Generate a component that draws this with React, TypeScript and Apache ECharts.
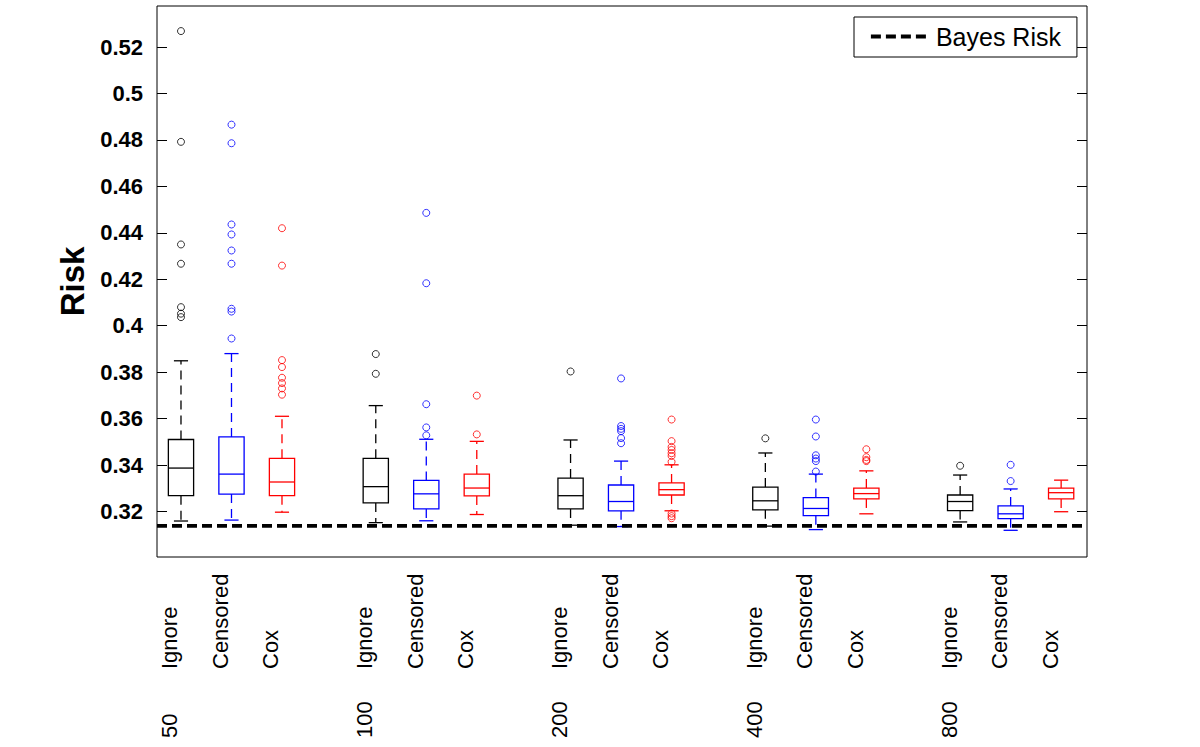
import React, { useEffect, useRef } from 'react';
import * as echarts from 'echarts';

// ---------- data ----------
const groupLabels = ['50', '100', '200', '400', '800'];
const methodLabels = ['Ignore', 'Censored', 'Cox'];
const methodColors = ['#000000', '#0000ff', '#ff0000'];

const yTickLabels = ['0.32', '0.34', '0.36', '0.38', '0.4', '0.42', '0.44', '0.46', '0.48', '0.5', '0.52'];

const bayesRisk = 0.3138;

// five-number summaries per sample size (50, 100, 200, 400, 800)
const ignoreLow = [0.3159, 0.3152, 0.3141, 0.3137, 0.3155];
const ignoreQ1 = [0.3268, 0.3237, 0.3211, 0.3207, 0.3204];
const ignoreMed = [0.3387, 0.3307, 0.3268, 0.3246, 0.3243];
const ignoreQ3 = [0.351, 0.3429, 0.3344, 0.3305, 0.3271];
const ignoreHigh = [0.3849, 0.3656, 0.3508, 0.3452, 0.3357];

const censoredLow = [0.3163, 0.316, 0.3135, 0.3122, 0.3119];
const censoredQ1 = [0.3275, 0.3211, 0.3203, 0.3182, 0.3169];
const censoredMed = [0.3361, 0.3276, 0.3243, 0.3213, 0.319];
const censoredQ3 = [0.3521, 0.3334, 0.3314, 0.326, 0.3224];
const censoredHigh = [0.388, 0.3511, 0.3417, 0.3361, 0.3297];

const coxLow = [0.3197, 0.3187, 0.3203, 0.319, 0.3199];
const coxQ1 = [0.3268, 0.3267, 0.3271, 0.3254, 0.3254];
const coxMed = [0.3327, 0.3301, 0.3294, 0.3277, 0.3281];
const coxQ3 = [0.3429, 0.3361, 0.3323, 0.3301, 0.3301];
const coxHigh = [0.361, 0.3502, 0.3401, 0.3375, 0.3335];

const ignoreOutliers = [
  [0.5269, 0.4792, 0.435, 0.4267, 0.408, 0.4052, 0.4037],
  [0.3878, 0.3793],
  [0.3803],
  [0.3515],
  [0.3397],
];
const censoredOutliers = [
  [0.4866, 0.4786, 0.4436, 0.4393, 0.4324, 0.4267, 0.4073, 0.4061, 0.3945],
  [0.4486, 0.4183, 0.3662, 0.3562, 0.3528],
  [0.3773, 0.3568, 0.3556, 0.3546, 0.3516, 0.3494],
  [0.3596, 0.3523, 0.3442, 0.3428, 0.3417, 0.3372],
  [0.3401, 0.3331],
];
const coxOutliers = [
  [0.442, 0.4259, 0.3852, 0.3822, 0.3776, 0.3753, 0.373, 0.3703],
  [0.3699, 0.3532],
  [0.3596, 0.3503, 0.3478, 0.3465, 0.3451, 0.3439, 0.3414, 0.3191, 0.318, 0.3171],
  [0.3468, 0.3434, 0.3422, 0.3417],
  [],
];

// ---------- layout ----------
const FONT = '"Liberation Sans", Arial, Helvetica, sans-serif';
const GROUP_STEP = 3.857;
const X_MIN = -0.475;
const X_MAX = 17.94;
const Y_MIN = 0.3004;
const Y_MAX = 0.5377;
const BOX_W = 0.5;
const CAP_W = 0.28;

const pos = (g: number, k: number) => g * GROUP_STEP + k;

const summaries = [
  [ignoreLow, ignoreQ1, ignoreMed, ignoreQ3, ignoreHigh],
  [censoredLow, censoredQ1, censoredMed, censoredQ3, censoredHigh],
  [coxLow, coxQ1, coxMed, coxQ3, coxHigh],
];
const outliers = [ignoreOutliers, censoredOutliers, coxOutliers];

export default function App() {
  const ref = useRef<HTMLDivElement>(null);

  useEffect(() => {
    const chart = echarts.init(ref.current!, null, { renderer: 'svg' });
    const yTicks = yTickLabels.map(Number);

    const series: any[] = [];
    methodLabels.forEach((m, k) => {
      const color = methodColors[k];
      const [lo, q1, med, q3, hi] = summaries[k];
      const data = groupLabels.map((_, g) => [pos(g, k), lo[g], q1[g], med[g], q3[g], hi[g]]);
      series.push({
        type: 'custom',
        name: m + ' box',
        data,
        encode: { x: 0, y: [1, 2, 3, 4, 5] },
        z: 2,
        renderItem: (_params: any, api: any) => {
          const x = api.value(0);
          const c = (v: number) => api.coord([x, v]);
          const pLow = c(api.value(1));
          const pQ1 = c(api.value(2));
          const pMed = c(api.value(3));
          const pQ3 = c(api.value(4));
          const pHigh = c(api.value(5));
          const bw = api.size([BOX_W, 0])[0];
          const cw = api.size([CAP_W, 0])[0];
          const cx = pLow[0];
          const solid = { stroke: color, lineWidth: 1.3, fill: 'none' };
          const dashed = { stroke: color, lineWidth: 1.3, lineDash: [9, 6] };
          return {
            type: 'group',
            children: [
              { type: 'line', shape: { x1: cx, y1: pQ3[1], x2: cx, y2: pHigh[1] }, style: dashed },
              { type: 'line', shape: { x1: cx, y1: pQ1[1], x2: cx, y2: pLow[1] }, style: dashed },
              { type: 'line', shape: { x1: cx - cw / 2, y1: pHigh[1], x2: cx + cw / 2, y2: pHigh[1] }, style: solid },
              { type: 'line', shape: { x1: cx - cw / 2, y1: pLow[1], x2: cx + cw / 2, y2: pLow[1] }, style: solid },
              {
                type: 'rect',
                shape: { x: cx - bw / 2, y: pQ3[1], width: bw, height: pQ1[1] - pQ3[1] },
                style: { stroke: color, lineWidth: 1.3, fill: '#fff' },
              },
              { type: 'line', shape: { x1: cx - bw / 2, y1: pMed[1], x2: cx + bw / 2, y2: pMed[1] }, style: solid },
            ],
          };
        },
      });
      const outData: number[][] = [];
      outliers[k].forEach((vals, g) => vals.forEach((v) => outData.push([pos(g, k), v])));
      series.push({
        type: 'scatter',
        name: m + ' outliers',
        data: outData,
        symbol: 'circle',
        symbolSize: 7,
        z: 3,
        itemStyle: { color: 'rgba(0,0,0,0)', borderColor: color, borderWidth: 1 },
      });
    });

    series.push({
      type: 'line',
      name: 'Bayes Risk',
      data: [
        [X_MIN, bayesRisk],
        [X_MAX, bayesRisk],
      ],
      symbol: 'none',
      z: 4,
      lineStyle: { color: '#000', width: 3.8, type: [10, 5] },
      itemStyle: { color: '#000' },
    });

    chart.setOption({
      animation: false,
      backgroundColor: '#fff',
      grid: {
        left: 157,
        top: 6,
        right: 113,
        bottom: 190,
        show: true,
        borderColor: '#000',
        borderWidth: 1,
        backgroundColor: '#fff',
      },
      legend: {
        data: ['Bayes Risk'],
        left: 854,
        top: 17,
        padding: [7, 16, 8, 15],
        itemWidth: 60,
        itemHeight: 14,
        backgroundColor: '#fff',
        borderColor: '#000',
        borderWidth: 1,
        itemStyle: { opacity: 0 },
        lineStyle: { color: '#000', width: 3.8, type: [10, 5] },
        textStyle: { fontSize: 25, color: '#000', fontFamily: FONT },
      },
      xAxis: { type: 'value', min: X_MIN, max: X_MAX, show: false },
      yAxis: [
        {
          type: 'value',
          min: Y_MIN,
          max: Y_MAX,
          position: 'left',
          axisLine: { show: false, onZero: false },
          splitLine: { show: false },
          axisTick: { show: true, inside: true, length: 10, customValues: yTicks, lineStyle: { color: '#000' } },
          axisLabel: {
            customValues: yTicks,
            formatter: (v: number) => {
              const i = yTicks.findIndex((t) => Math.abs(t - v) < 1e-9);
              return i >= 0 ? yTickLabels[i] : String(v);
            },
            fontSize: 22,
            fontWeight: 'bold',
            color: '#000',
            margin: 14,
            fontFamily: FONT,
          },
          name: 'Risk',
          nameLocation: 'middle',
          nameGap: 66,
          nameTextStyle: { fontSize: 33, fontWeight: 'bold', color: '#000', fontFamily: FONT },
        },
        {
          type: 'value',
          min: Y_MIN,
          max: Y_MAX,
          position: 'right',
          axisLine: { show: false, onZero: false },
          splitLine: { show: false },
          axisTick: { show: true, inside: true, length: 10, customValues: yTicks, lineStyle: { color: '#000' } },
          axisLabel: { show: false },
        },
      ],
      series,
    });

    const graphics: any[] = [];
    const textStyle = { fontSize: 22, fontFamily: FONT, fill: '#000', align: 'left', verticalAlign: 'middle' };
    groupLabels.forEach((gl, g) => {
      methodLabels.forEach((m, k) => {
        const px = chart.convertToPixel({ xAxisIndex: 0 }, pos(g, k)) as number;
        graphics.push({ type: 'text', x: px - 11, y: 669, rotation: Math.PI / 2, style: { ...textStyle, text: m } });
      });
      const gx = chart.convertToPixel({ xAxisIndex: 0 }, pos(g, 0)) as number;
      graphics.push({ type: 'text', x: gx - 11, y: 738, rotation: Math.PI / 2, style: { ...textStyle, text: gl } });
    });
    chart.setOption({ graphic: graphics });

    return () => chart.dispose();
  }, []);

  return (
    <div
      ref={ref}
      style={{ position: 'fixed', left: 0, top: 0, width: 1200, height: 747, background: '#fff' }}
    />
  );
}
